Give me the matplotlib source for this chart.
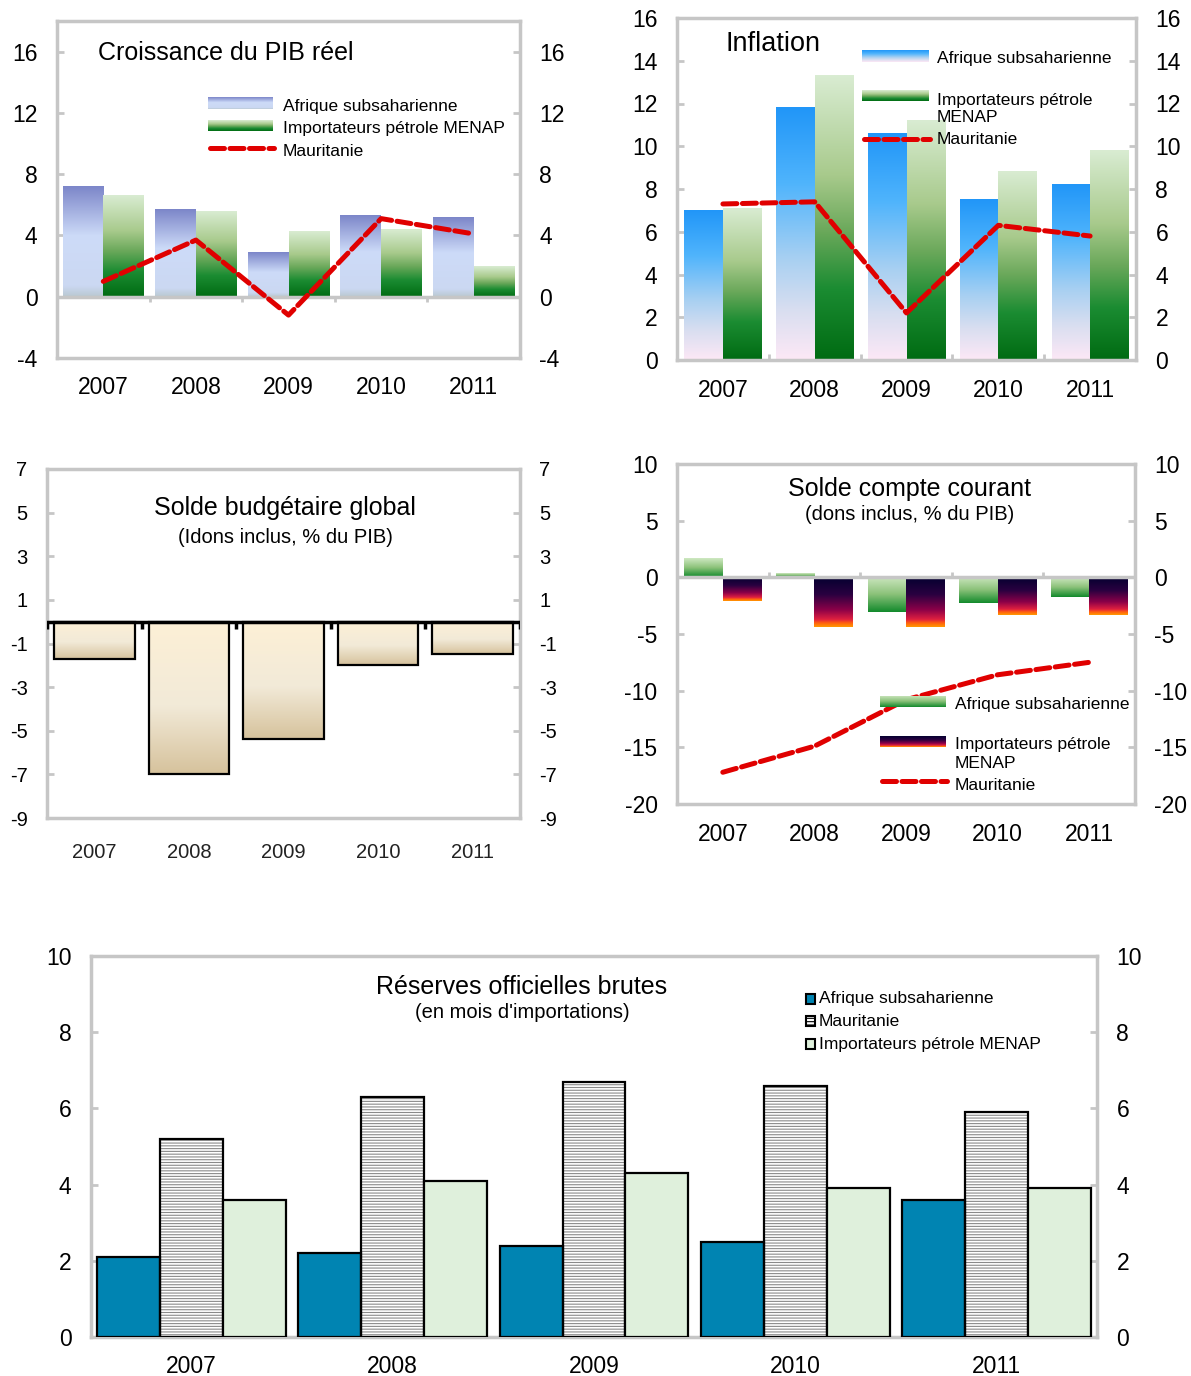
import numpy as np
import matplotlib.pyplot as plt
from matplotlib.colors import LinearSegmentedColormap
from matplotlib.lines import Line2D
from matplotlib.patches import Rectangle

plt.rcParams['font.family'] = ['Liberation Sans', 'DejaVu Sans']
plt.rcParams['axes.unicode_minus'] = False
plt.rcParams['hatch.linewidth'] = 0.8

W, H = 1191, 1376
years = ['2007', '2008', '2009', '2010', '2011']

# Croissance du PIB réel
pib_ass = [7.2, 5.7, 2.9, 5.3, 5.2]
pib_menap = [6.6, 5.6, 4.3, 4.4, 2.0]
pib_mrt = [1.0, 3.7, -1.2, 5.1, 4.1]

# Inflation
inf_ass = [7.0, 11.8, 10.6, 7.5, 8.2]
inf_menap = [7.1, 13.3, 11.2, 8.8, 9.8]
inf_mrt = [7.3, 7.4, 2.2, 6.3, 5.8]

# Solde budgétaire global
bud_mrt = [-1.7, -7.0, -5.4, -2.0, -1.5]

# Solde compte courant
cc_ass = [1.6, 0.3, -3.1, -2.3, -1.7]
cc_menap = [-2.1, -4.4, -4.4, -3.3, -3.3]
cc_mrt = [-17.2, -14.9, -10.8, -8.6, -7.5]

# Réserves officielles brutes
res_ass = [2.1, 2.2, 2.4, 2.5, 3.6]
res_mrt = [5.2, 6.3, 6.7, 6.6, 5.9]
res_menap = [3.6, 4.1, 4.3, 3.9, 3.9]

GRAY = '#c6c6c6'
RED = '#e00000'

cm_pib_blue = LinearSegmentedColormap.from_list('pb', [(0, '#7c86c9'), (0.45, '#cddbf8'), (0.9, '#cbd8f2'), (1, '#b9c8d0')])
cm_green = LinearSegmentedColormap.from_list('g', [(0, '#d9ecd2'), (0.35, '#a8ca8c'), (0.55, '#6aa85a'), (0.75, '#1b8c32'), (1, '#006b12')])
cm_inf_blue = LinearSegmentedColormap.from_list('ib', [(0, '#2196f8'), (0.3, '#4fb4fc'), (0.6, '#a8d0f2'), (0.8, '#d8def0'), (1, '#fde8f6')])
cm_cc_green = LinearSegmentedColormap.from_list('cg', [(0, '#cfe8c2'), (0.5, '#8cc27a'), (1, '#128a2c')])
cm_cc_dark = LinearSegmentedColormap.from_list('cd', [(0, '#040030'), (0.35, '#2a0040'), (0.65, '#8a0048'), (0.85, '#e02040'), (0.92, '#ff6010'), (1, '#ff9a00')])
cm_bud = LinearSegmentedColormap.from_list('bd', [(0, '#fdf0d6'), (0.55, '#f2ead8'), (1, '#d6c29c')])

GRAD = np.linspace(0, 1, 256).reshape(-1, 1)

fig = plt.figure(figsize=(W / 100, H / 100), dpi=100)


def make_ax(l, t, r, b):
    return fig.add_axes([l / W, 1 - b / H, (r - l) / W, (b - t) / H])


def style(ax, ylim, yticks, fs, xpad):
    ax.set_xlim(-0.5, 4.5)
    ax.set_ylim(*ylim)
    for s in ax.spines.values():
        s.set_color(GRAY)
        s.set_linewidth(2.5)
    ax.set_yticks(yticks)
    ax.tick_params(axis='y', direction='in', length=5, width=2, color=GRAY,
                   left=True, right=True, labelleft=True, labelright=True,
                   labelsize=fs, pad=14)
    ax.set_xticks(range(5))
    ax.set_xticklabels(years)
    ax.tick_params(axis='x', length=0, labelsize=fs, pad=xpad)


def grad_fill(ax, bars, cmap, z=2):
    for p in bars:
        x0, y0, w, h = p.get_x(), p.get_y(), p.get_width(), p.get_height()
        ax.imshow(GRAD, cmap=cmap, aspect='auto', origin='upper', zorder=z,
                  extent=(x0, x0 + w, min(y0, y0 + h), max(y0, y0 + h)))


def swatch(x0, y0, x1, y1, cmap):
    a = fig.add_axes([x0 / W, 1 - y1 / H, (x1 - x0) / W, (y1 - y0) / H])
    a.imshow(GRAD, cmap=cmap, aspect='auto')
    a.axis('off')


def dash_key(x0, x1, y):
    fig.add_artist(Line2D([x0 / W, x1 / W], [1 - y / H, 1 - y / H], color=RED,
                          lw=3.6, dashes=(2.8, 1.1), dash_capstyle='round'))


def ftext(x, y, s, size, ha='left'):
    fig.text(x / W, 1 - y / H, s, fontsize=size, ha=ha, va='center', linespacing=1.25)


x = np.arange(5)

# ---- Croissance du PIB réel
ax1 = make_ax(57, 21, 520, 358)
b = ax1.bar(x - 0.22, pib_ass, 0.44, color='none')
grad_fill(ax1, b, cm_pib_blue)
b = ax1.bar(x + 0.22, pib_menap, 0.44, color='none')
grad_fill(ax1, b, cm_green)
ax1.axhline(0, color=GRAY, lw=2.5, zorder=3)
ax1.vlines(x[:-1] + 0.5, -0.35, 0, color=GRAY, lw=2, zorder=3)
ax1.plot(x, pib_mrt, color=RED, lw=3.6, dashes=(2.8, 1.1), dash_capstyle='round', zorder=5)
style(ax1, (-4, 18), [-4, 0, 4, 8, 12, 16], 16.5, 13)
ftext(98, 53, 'Croissance du PIB réel', 18)
swatch(208, 97, 273, 109, cm_pib_blue)
swatch(208, 120, 273, 131, cm_green)
dash_key(210, 274, 148)
ftext(283, 106, 'Afrique subsaharienne', 12.5)
ftext(283, 128, 'Importateurs pétrole MENAP', 12.5)
ftext(283, 151, 'Mauritanie', 12.5)

# ---- Inflation
ax2 = make_ax(677, 18, 1136, 360)
b = ax2.bar(x - 0.21, inf_ass, 0.42, color='none')
grad_fill(ax2, b, cm_inf_blue)
b = ax2.bar(x + 0.21, inf_menap, 0.42, color='none')
grad_fill(ax2, b, cm_green)
ax2.vlines(x[:-1] + 0.5, 0, 0.3, color=GRAY, lw=2, zorder=3)
ax2.plot(x, inf_mrt, color=RED, lw=3.6, dashes=(2.8, 1.1), dash_capstyle='round', zorder=5)
style(ax2, (0, 16), range(0, 17, 2), 16.5, 14)
ftext(725, 44, 'Inflation', 19.5)
swatch(862, 50, 929, 62, cm_inf_blue)
swatch(862, 90, 929, 101, cm_green)
dash_key(864, 930, 139)
ftext(937, 58, 'Afrique subsaharienne', 12.5)
ftext(937, 109, 'Importateurs pétrole\nMENAP', 12.5)
ftext(937, 140, 'Mauritanie', 12.5)

# ---- Solde budgétaire global
ax3 = make_ax(47, 469, 520, 818)
b = ax3.bar(x, bud_mrt, 0.85, color='none')
grad_fill(ax3, b, cm_bud)
ax3.bar(x, bud_mrt, 0.85, facecolor='none', edgecolor='black', lw=1.6, zorder=3)
ax3.axhline(0, color='black', lw=2.5, zorder=4)
ax3.vlines(np.arange(6) - 0.5, -0.35, 0, color='black', lw=2.5, zorder=4)
style(ax3, (-9, 7), range(-9, 8, 2), 14.5, 18)
ax3.tick_params(axis='x', labelcolor='#222222')
ftext(285, 508, 'Solde budgétaire global', 18, ha='center')
ftext(285, 538, '(Idons inclus, % du PIB)', 14.5, ha='center')

# ---- Solde compte courant
ax4 = make_ax(677, 464, 1135, 804)
b = ax4.bar(x - 0.21, cc_ass, 0.42, color='none')
grad_fill(ax4, b, cm_cc_green)
b = ax4.bar(x + 0.21, cc_menap, 0.42, color='none')
grad_fill(ax4, b, cm_cc_dark)
ax4.axhline(0, color=GRAY, lw=2.5, zorder=3)
ax4.vlines(x[:-1] + 0.5, 0, 0.5, color=GRAY, lw=2, zorder=3)
ax4.plot(x, cc_mrt, color=RED, lw=3.6, dashes=(2.8, 1.1), dash_capstyle='round', zorder=5)
style(ax4, (-20, 10), range(-20, 11, 5), 16.5, 14)
ftext(909, 489, 'Solde compte courant', 18, ha='center')
ftext(910, 515, '(dons inclus, % du PIB)', 14.5, ha='center')
swatch(880, 696, 946, 707, cm_cc_green)
swatch(880, 736, 946, 747, cm_cc_dark)
dash_key(882, 947, 781)
ftext(955, 704, 'Afrique subsaharienne', 12.5)
ftext(955, 754, 'Importateurs pétrole\nMENAP', 12.5)
ftext(955, 785, 'Mauritanie', 12.5)

# ---- Réserves officielles brutes
ax5 = make_ax(91, 956, 1097, 1337)
w5 = 0.313
ax5.bar(x - w5, res_ass, w5, facecolor='#0084b2', edgecolor='black', lw=1.6, zorder=3)
ax5.bar(x, res_mrt, w5, facecolor='white', edgecolor='#8a8a8a', hatch='------', lw=0, zorder=2)
ax5.bar(x, res_mrt, w5, facecolor='none', edgecolor='black', lw=1.6, zorder=3)
ax5.bar(x + w5, res_menap, w5, facecolor='#dff0dc', edgecolor='black', lw=1.6, zorder=3)
style(ax5, (0, 10), range(0, 11, 2), 16.5, 13)
ftext(522, 987, 'Réserves officielles brutes', 18, ha='center')
ftext(522, 1012, "(en mois d'importations)", 14.5, ha='center')
for yy, fc, ht, lab in [(999, '#0084b2', None, 'Afrique subsaharienne'),
                        (1021, 'white', '-----', 'Mauritanie'),
                        (1044, '#dff0dc', None, 'Importateurs pétrole MENAP')]:
    fig.add_artist(Rectangle((806 / W, 1 - (yy + 5) / H), 9 / W, 10 / H,
                             facecolor=fc, edgecolor='black', lw=1.5, hatch=ht))
    ftext(819, yy, lab, 12.5)

fig.savefig('out.png', dpi=100)
